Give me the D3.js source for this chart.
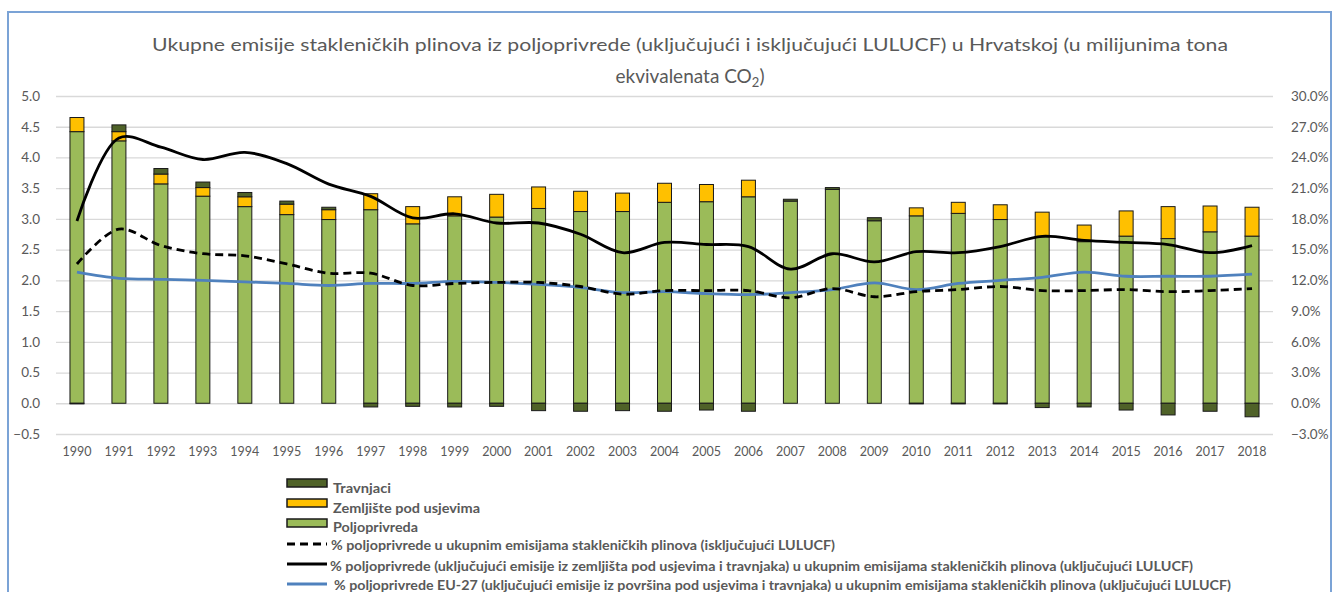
<!DOCTYPE html>
<html>
<head>
<meta charset="utf-8">
<script src="https://cdn.jsdelivr.net/npm/d3@7"></script>
<style>
  html, body { margin: 0; padding: 0; background: #fff; }
  svg { display: block; }
  text { font-family: Lato, "Open Sans", "DejaVu Sans", sans-serif; }
</style>
</head>
<body>
<svg id="chart" width="1335" height="592"></svg>
<script>
const years = [1990,1991,1992,1993,1994,1995,1996,1997,1998,1999,2000,2001,2002,2003,2004,2005,2006,2007,2008,2009,2010,2011,2012,2013,2014,2015,2016,2017,2018];
const poljoprivreda = [4.42,4.27,3.57,3.37,3.20,3.07,2.99,3.15,2.92,3.05,3.03,3.17,3.12,3.12,3.27,3.28,3.36,3.29,3.48,2.97,3.05,3.09,2.99,2.71,2.63,2.72,2.68,2.79,2.72];
const zemljiste = [0.23,0.15,0.16,0.14,0.16,0.17,0.16,0.26,0.28,0.31,0.37,0.35,0.33,0.30,0.31,0.28,0.27,0.00,0.00,0.00,0.13,0.18,0.24,0.40,0.27,0.41,0.52,0.42,0.47];
const travnjaci = [-0.01,0.11,0.09,0.09,0.07,0.05,0.04,-0.06,-0.05,-0.06,-0.05,-0.12,-0.13,-0.12,-0.13,-0.11,-0.13,0.03,0.03,0.05,-0.01,-0.01,-0.01,-0.07,-0.06,-0.11,-0.19,-0.13,-0.22];
const pctIskljucujuci = [13.6,17.0,15.4,14.6,14.4,13.6,12.7,12.7,11.5,11.7,11.8,11.8,11.4,10.65,11.0,11.0,11.0,10.3,11.2,10.4,10.9,11.1,11.4,11.0,11.0,11.1,10.9,11.0,11.2];
const pctUkljucujuci = [17.8,25.9,25.0,23.8,24.5,23.4,21.4,20.2,18.1,18.5,17.6,17.6,16.5,14.7,15.7,15.5,15.3,13.1,14.6,13.8,14.8,14.7,15.3,16.3,15.9,15.7,15.5,14.7,15.4];
const pctEU27 = [12.8,12.2,12.1,12.0,11.85,11.7,11.5,11.7,11.7,11.9,11.8,11.6,11.3,10.8,10.9,10.7,10.6,10.8,11.1,11.75,11.1,11.7,12.0,12.3,12.8,12.4,12.4,12.4,12.6];
const leftTicks = [-0.5,0,0.5,1,1.5,2,2.5,3,3.5,4,4.5,5];
const rightTicks = [-3,0,3,6,9,12,15,18,21,24,27,30];
const titleLine1 = "Ukupne emisije stakleničkih plinova iz poljoprivrede (uključujući i isključujući LULUCF) u Hrvatskoj (u milijunima tona";
const titleLine2 = "ekvivalenata CO";
const legendLabels = [
  "Travnjaci",
  "Zemljište pod usjevima",
  "Poljoprivreda",
  "% poljoprivrede u ukupnim emisijama stakleničkih plinova (isključujući LULUCF)",
  "% poljoprivrede (uključujući emisije iz zemljišta pod usjevima i travnjaka) u ukupnim emisijama stakleničkih plinova (uključujući LULUCF)",
  "% poljoprivrede EU-27 (uključujući emisije iz površina pod usjevima i travnjaka) u ukupnim emisijama stakleničkih plinova (uključujući LULUCF)"
];

const C = { green: "#9bbb59", dark: "#4f6228", yellow: "#ffc000", blue: "#4f81bd", text: "#595959", grid: "#d9d9d9" };
const svg = d3.select("#chart");

// frame border
svg.append("rect").attr("x", 8).attr("y", 12).attr("width", 1323).attr("height", 600)
  .attr("fill", "none").attr("stroke", "#7ba3d6").attr("stroke-width", 2);

const L = 56, R = 1273, T = 96, B = 434;
const x = d3.scaleBand().domain(years).range([L, R]).paddingInner(0.667).paddingOuter(0.333);
const yL = d3.scaleLinear().domain([-0.5, 5]).range([B, T]);
const yR = d3.scaleLinear().domain([-3, 30]).range([B, T]);

// grid
const grid = svg.append("g").attr("transform", `translate(${L},0)`)
  .call(d3.axisLeft(yL).tickValues(leftTicks).tickSize(-(R - L)).tickFormat(""));
grid.select(".domain").remove();
grid.selectAll("line").attr("stroke", C.grid).attr("stroke-width", 1.3);

// left axis
const ax = svg.append("g").attr("transform", `translate(${L},0)`)
  .call(d3.axisLeft(yL).tickValues(leftTicks).tickSize(0).tickPadding(16).tickFormat(d3.format(".1f")));
ax.select(".domain").remove();
ax.selectAll("text").attr("fill", C.text).style("font-size", "13.5px");

// right axis
const axr = svg.append("g").attr("transform", `translate(${R},0)`)
  .call(d3.axisRight(yR).tickValues(rightTicks).tickSize(0).tickPadding(18).tickFormat(d => d3.format(".1f")(d) + "%"));
axr.select(".domain").remove();
axr.selectAll("text").attr("fill", C.text).style("font-size", "13.5px");

// x axis
const axb = svg.append("g").attr("transform", `translate(0,${B})`)
  .call(d3.axisBottom(x).tickSize(0).tickPadding(13.5));
axb.select(".domain").remove();
axb.selectAll("text").attr("fill", C.text).style("font-size", "12.5px");

// bars
const rows = years.map((yr, i) => ({ yr, p: poljoprivreda[i], z: zemljiste[i], t: travnjaci[i] }));
const bars = svg.append("g");
rows.forEach(d => {
  const segs = [];
  segs.push({ y0: 0, y1: d.p, c: C.green });
  if (d.z > 0) segs.push({ y0: d.p, y1: d.p + d.z, c: C.yellow });
  if (d.t > 0) segs.push({ y0: d.p + d.z, y1: d.p + d.z + d.t, c: C.dark });
  if (d.t < 0) segs.push({ y0: d.t, y1: 0, c: C.dark });
  segs.forEach(s => {
    bars.append("rect")
      .attr("x", x(d.yr)).attr("width", x.bandwidth())
      .attr("y", yL(s.y1)).attr("height", Math.max(0.5, yL(s.y0) - yL(s.y1)))
      .attr("fill", s.c).attr("stroke", "#1a1a1a").attr("stroke-width", 1);
  });
});

// lines
const cx = yr => x(yr) + x.bandwidth() / 2;
const curve = d3.curveCatmullRom.alpha(0.5);
const lineGen = arr => d3.line().x((d, i) => cx(years[i])).y(d => yR(d)).curve(curve)(arr);
svg.append("path").attr("d", lineGen(pctEU27)).attr("fill", "none").attr("stroke", C.blue).attr("stroke-width", 2.8);
svg.append("path").attr("d", lineGen(pctIskljucujuci)).attr("fill", "none").attr("stroke", "#000").attr("stroke-width", 2.8).attr("stroke-dasharray", "8,5");
svg.append("path").attr("d", lineGen(pctUkljucujuci)).attr("fill", "none").attr("stroke", "#000").attr("stroke-width", 2.8);

// title
const title = svg.append("g").attr("fill", C.text).style("font-size", "17.5px");
title.append("text").attr("x", 152).attr("y", 51).attr("textLength", 1076).attr("lengthAdjust", "spacingAndGlyphs").text(titleLine1);
const t2 = title.append("text").attr("x", 690).attr("y", 83).attr("text-anchor", "middle").style("font-size", "19px");
t2.append("tspan").text(titleLine2);
t2.append("tspan").attr("dy", 4).style("font-size", "13px").text("2");
t2.append("tspan").attr("dy", -4).text(")");

// legend
const leg = svg.append("g");
const swX = 287, swW = 40;
const swatchY = [479, 499, 519];
const swatchC = [C.dark, C.yellow, C.green];
swatchY.forEach((yy, i) => {
  leg.append("rect").attr("x", swX).attr("y", yy).attr("width", swW).attr("height", 8)
    .attr("fill", swatchC[i]).attr("stroke", "#1a1a1a").attr("stroke-width", 1.5);
});
leg.append("line").attr("x1", swX).attr("x2", swX + swW).attr("y1", 544).attr("y2", 544)
  .attr("stroke", "#000").attr("stroke-width", 3).attr("stroke-dasharray", "8,5");
leg.append("line").attr("x1", swX).attr("x2", swX + swW).attr("y1", 564).attr("y2", 564)
  .attr("stroke", "#000").attr("stroke-width", 3);
leg.append("line").attr("x1", swX).attr("x2", swX + swW).attr("y1", 584).attr("y2", 584)
  .attr("stroke", C.blue).attr("stroke-width", 3);
const legText = [
  { x: 333, y: 493, w: 58 },
  { x: 333, y: 513, w: 147 },
  { x: 333, y: 532, w: 85 },
  { x: 331, y: 550, w: 504 },
  { x: 330, y: 571, w: 863 },
  { x: 334, y: 590, w: 897 }
];
legendLabels.forEach((lab, i) => {
  leg.append("text").attr("x", legText[i].x).attr("y", legText[i].y)
    .attr("textLength", legText[i].w).attr("lengthAdjust", "spacingAndGlyphs")
    .attr("fill", C.text).style("font-size", "12.5px").style("font-weight", "bold").text(lab);
});
</script>
</body>
</html>
